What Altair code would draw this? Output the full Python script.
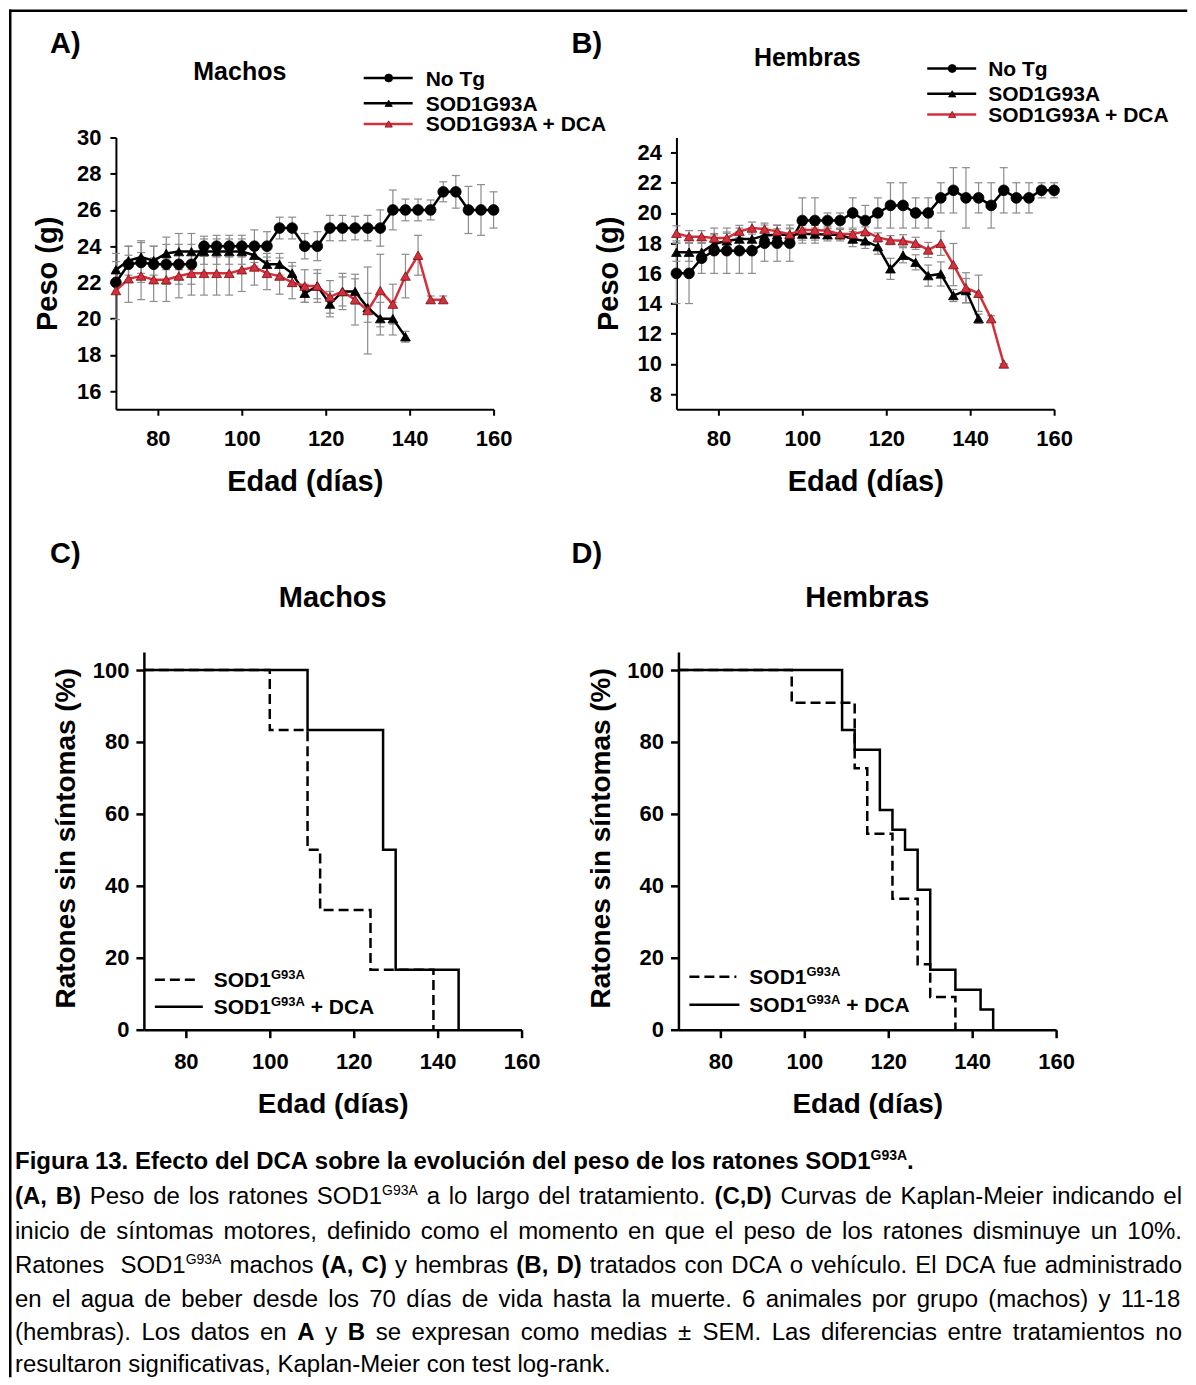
import altair as alt
import pandas as pd

F = "Liberation Sans"
GREY = "#8c8c8c"
RED = "#d3303b"
RED_EDGE = "#7a1016"
CAP = "M-1,0L1,0"

# ---------------- data ----------------
DAYS = [70, 73, 76, 79, 82, 85, 88, 91, 94, 97, 100, 103, 106, 109, 112, 115,
        118, 121, 124, 127, 130, 133, 136, 139, 142, 145, 148, 151, 154, 157, 160]

# Panel A (Machos) weight, g
A_notg = [22.0, 23.0, 23.1, 23.0, 23.0, 23.0, 23.0, 24.0, 24.0, 24.0, 24.0, 24.0, 24.0, 25.0, 25.0, 24.0,
          24.0, 25.0, 25.0, 25.0, 25.0, 25.0, 26.0, 26.0, 26.0, 26.0, 27.0, 27.0, 26.0, 26.0, 26.0]
A_notg_e = [0.6, 1.0, 1.1, 1.0, 1.1, 1.1, 1.1, 0.55, 0.6, 0.6, 0.6, 0.9, 0.8, 0.6, 0.6, 0.7,
            0.8, 0.7, 0.7, 0.65, 0.7, 1.0, 1.1, 0.6, 0.6, 0.55, 0.55, 0.9, 1.3, 1.4, 1.0]
A_sod = [22.7, 23.2, 23.4, 23.2, 23.6, 23.7, 23.7, 23.7, 23.7, 23.7, 23.7, 23.5, 23.0, 23.0, 22.5, 21.4,
         21.8, 20.8, 21.5, 21.5, 20.6, 20.0, 20.0, 19.0]
A_sod_e = [0.9, 0.8, 0.9, 0.8, 0.9, 1.0, 1.0, 0.7, 0.7, 0.7, 0.7, 0.6, 0.6, 0.6, 0.6, 0.5,
           0.7, 0.7, 0.8, 0.7, 0.8, 0.9, 0.9, 0.3]
A_dca = [21.55, 22.2, 22.35, 22.15, 22.15, 22.35, 22.5, 22.5, 22.5, 22.5, 22.7, 22.85, 22.5, 22.35, 22.0,
         21.8, 21.8, 21.2, 21.5, 21.05, 20.45, 21.55, 20.8, 22.35, 23.5, 21.05, 21.05]
A_dca_e = [1.6, 1.3, 1.3, 1.2, 1.2, 1.2, 1.2, 1.2, 1.2, 1.2, 1.2, 1.0, 0.9, 1.0, 0.9,
           0.9, 0.9, 0.9, 1.0, 1.4, 2.4, 2.0, 1.1, 1.2, 1.1, 0.2, 0.2]

# Panel B (Hembras) weight, g
B_notg = [16.0, 16.0, 17.0, 17.5, 17.5, 17.5, 17.5, 18.0, 18.0, 18.0, 19.5, 19.5, 19.5, 19.5, 20.0, 19.5,
          20.0, 20.5, 20.5, 20.0, 20.0, 21.0, 21.5, 21.0, 21.0, 20.5, 21.5, 21.0, 21.0, 21.5, 21.5]
B_notg_e = [2.0, 2.0, 1.0, 1.5, 1.5, 1.5, 1.5, 1.2, 1.2, 1.2, 1.5, 1.5, 0.5, 0.5, 1.0, 1.0,
            1.0, 1.5, 1.5, 1.0, 1.0, 1.0, 1.5, 2.0, 1.0, 1.5, 1.5, 1.0, 1.0, 0.5, 0.5]
B_sod = [17.4, 17.4, 17.4, 17.95, 18.15, 18.27, 18.27, 18.5, 18.55, 18.55, 18.6, 18.6, 18.55, 18.55,
         18.27, 18.15, 17.77, 16.3, 17.2, 16.73, 15.85, 15.96, 14.53, 14.86, 13.0]
B_sod_e = [0.6, 0.6, 0.6, 0.6, 0.5, 0.5, 0.5, 0.5, 0.4, 0.4, 0.4, 0.4, 0.4, 0.4,
           0.5, 0.5, 0.5, 0.7, 0.5, 0.5, 0.7, 0.8, 0.4, 0.8, 0.3]
B_dca = [18.65, 18.43, 18.43, 18.34, 18.34, 18.78, 19.0, 18.93, 18.78, 18.6, 18.87, 18.87, 18.82, 18.6,
         18.6, 18.78, 18.38, 18.2, 18.16, 17.99, 17.55, 17.99, 16.58, 15.04, 14.68, 13.0, 10.0]
B_dca_e = [0.5, 0.4, 0.4, 0.3, 0.4, 0.4, 0.4, 0.4, 0.4, 0.4, 0.3, 0.3, 0.3, 0.3,
           0.3, 0.3, 0.3, 0.3, 0.4, 0.4, 0.5, 0.8, 1.4, 1.0, 1.2, 0.2, 0.0]

# Kaplan-Meier (% without symptoms)
C_dash_day = [70, 100, 109, 112, 124, 139]
C_dash_pct = [100, 83.3, 50.0, 33.3, 16.7, 0]
C_sol_day = [70, 109, 127, 130, 145]
C_sol_pct = [100, 83.3, 50.0, 16.7, 0]
D_dash_day = [70, 97, 112, 115, 121, 127, 130, 136]
D_dash_pct = [100, 90.9, 72.7, 54.5, 36.4, 18.2, 9.1, 0]
D_sol_day = [70, 109, 112, 118, 121, 124, 127, 130, 136, 142, 145]
D_sol_pct = [100, 83.3, 77.8, 61.1, 55.6, 50.0, 38.9, 16.7, 11.1, 5.6, 0]

SERIES_NAMES = ["No Tg", "SOD1G93A", "SOD1G93A + DCA"]

# ---------------- text metrics (Arial / Liberation Sans) ----------------
REG = {' ': 278, '(': 333, ')': 333, ',': 278, '-': 333, '.': 278, '%': 889, '+': 584, '±': 584,
       'A': 667, 'B': 667, 'C': 722, 'D': 722, 'E': 667, 'F': 611, 'G': 778, 'K': 667, 'L': 556,
       'M': 833, 'O': 778, 'P': 667, 'R': 722, 'S': 667, 'T': 611,
       'a': 556, 'b': 556, 'c': 500, 'd': 556, 'e': 556, 'f': 278, 'g': 556, 'h': 556, 'i': 222,
       'j': 222, 'k': 500, 'l': 222, 'm': 833, 'n': 556, 'o': 556, 'p': 556, 'q': 556, 'r': 333,
       's': 500, 't': 278, 'u': 556, 'v': 500, 'w': 722, 'x': 500, 'y': 500, 'z': 500,
       'í': 278, 'ó': 556, 'é': 556, 'á': 556}
BOLD = {' ': 278, '(': 333, ')': 333, ',': 278, '-': 333, '.': 278, '%': 889, '+': 584,
        'A': 722, 'B': 722, 'C': 722, 'D': 722, 'E': 667, 'F': 611, 'G': 778, 'M': 833, 'N': 722,
        'O': 778, 'P': 667, 'R': 722, 'S': 667, 'T': 611,
        'a': 556, 'b': 611, 'c': 556, 'd': 611, 'e': 556, 'f': 333, 'g': 611, 'h': 611, 'i': 278,
        'l': 278, 'm': 889, 'n': 611, 'o': 611, 'p': 611, 'r': 389, 's': 556, 't': 333, 'u': 611,
        'v': 556, 'í': 278, 'ó': 611}
KINDS = {'r': (24, 'normal', 0), 'b': (24, 'bold', 0), 's': (14, 'normal', -9), 'bs': (14, 'bold', -9),
         'lg': (21, 'bold', 0), 'lgs': (13, 'bold', -8)}


def text_width(s, kind):
    size, weight, _ = KINDS[kind]
    tab = BOLD if weight == 'bold' else REG
    return sum(tab.get(c, 556) for c in s) * size / 1000.0


one = pd.DataFrame({"k": [0]})


def deco_text(x, y, text, size, weight="bold", align="left", baseline="alphabetic"):
    return alt.Chart(one).mark_text(text=text, font=F, fontSize=size, fontWeight=weight, align=align,
                                    baseline=baseline, color="black").encode(x=alt.value(x), y=alt.value(y))


def deco_hline(x1, x2, y, color="black", width=2.5, dash=None):
    kw = dict(color=color, strokeWidth=width)
    if dash:
        kw["strokeDash"] = dash
    return alt.Chart(one).mark_rule(**kw).encode(x=alt.value(x1), x2=alt.value(x2), y=alt.value(y))


def deco_point(x, y, shape, fill, stroke, size):
    return alt.Chart(one).mark_point(shape=shape, filled=True, fill=fill, stroke=stroke, strokeWidth=0.8,
                                     size=size, opacity=1).encode(x=alt.value(x), y=alt.value(y))


def pieces_layers(pieces, x0, ybase):
    out = []
    x = x0
    for t, k in pieces:
        size, weight, dy = KINDS[k]
        lead = len(t) - len(t.lstrip(' '))
        xs = x + text_width(t[:lead], k)
        out.append(deco_text(xs, ybase + dy, t.strip(' '), size, weight))
        x += text_width(t, k)
    return out


def axis_common(size_lab):
    return dict(grid=False, domainColor="black", tickColor="black", labelColor="black",
                titleColor="black", labelFont=F, titleFont=F, labelFontSize=size_lab,
                labelFontWeight="bold", titleFontWeight="bold", labelFlush=False)


STYLE = {
    "No Tg": dict(color="black", shape="circle", fill="black", stroke="black", size=115),
    "SOD1G93A": dict(color="black", shape="triangle-up", fill="black", stroke="black", size=95),
    "SOD1G93A + DCA": dict(color=RED, shape="triangle-up", fill=RED, stroke=RED_EDGE, size=95),
}


def weight_panel(vals, ydom, yvals, letter, letter_x, title, title_x, title_y,
                 leg_line, leg_mark, leg_text_x, leg_rows, frame=False):
    xs = alt.Scale(domain=[70, 160], nice=False, zero=False)
    ys = alt.Scale(domain=ydom, nice=False, zero=False)
    xa = alt.Axis(values=[80, 100, 120, 140, 160], title="Edad (días)", titleFontSize=29,
                  titleY=81, titleBaseline="alphabetic", tickSize=6, tickWidth=2, domainWidth=2,
                  labelPadding=13, **axis_common(22))
    ya = alt.Axis(values=yvals, title="Peso (g)", titleFontSize=29, titleAngle=-90, titleX=-68,
                  titleY=136, titleBaseline="middle", titleAlign="center", tickSize=6, tickWidth=2,
                  domainWidth=2, labelPadding=9, **axis_common(22))
    X = alt.X("day:Q", scale=xs, axis=xa)
    dfs = []
    for name, (w, e) in zip(SERIES_NAMES, vals):
        dfs.append(pd.DataFrame({"day": DAYS[:len(w)], "w": w, "err": e, "g": name}))
    layers = []
    for df in dfs:
        base = alt.Chart(df).transform_calculate(lo="datum.w - datum.err", hi="datum.w + datum.err")
        layers.append(base.mark_rule(color=GREY, strokeWidth=1.2).encode(
            x=X, y=alt.Y("lo:Q", scale=ys, axis=ya), y2="hi:Q"))
        for fld in ["lo", "hi"]:
            layers.append(base.mark_point(shape=CAP, size=64, filled=False, color=GREY, strokeWidth=1.2,
                                          opacity=1).encode(x=X, y=alt.Y(f"{fld}:Q", scale=ys, axis=ya)))
    for df in dfs:
        st = STYLE[df["g"].iloc[0]]
        base = alt.Chart(df)
        Y = alt.Y("w:Q", scale=ys, axis=ya)
        layers.append(base.mark_line(color=st["color"], strokeWidth=2.5).encode(x=X, y=Y))
        layers.append(base.mark_point(shape=st["shape"], filled=True, fill=st["fill"], stroke=st["stroke"],
                                      strokeWidth=0.8, size=st["size"], opacity=1).encode(x=X, y=Y))
    # legend
    for name, yc in zip(SERIES_NAMES, leg_rows):
        st = STYLE[name]
        layers.append(deco_hline(leg_line[0], leg_line[1], yc, color=st["color"], width=2.5))
        layers.append(deco_point(leg_mark, yc, st["shape"], st["fill"], st["stroke"], st["size"] * 0.55))
        layers.append(deco_text(leg_text_x, yc + 7.5, name, 21))
    layers.append(deco_text(letter_x, -85, letter, 29))
    layers.append(deco_text(title_x, title_y, title, 25, align="center"))
    if frame:
        layers.append(alt.Chart(one).mark_rule(color="black", strokeWidth=2.5, strokeCap="square").encode(
            x=alt.value(-105.75), x2=alt.value(1071), y=alt.value(-126.75)))
        layers.append(alt.Chart(one).mark_rule(color="black", strokeWidth=2.5, strokeCap="square").encode(
            x=alt.value(-105.75), y=alt.value(-126.75), y2=alt.value(1239.5)))
    return alt.layer(*layers).properties(width=378, height=272)


def km_panel(dash, solid, x0, letter, letter_x, title, title_x, leg_x, leg_text_x, leg_y):
    xs = alt.Scale(domain=[70, 160], range=[x0, x0 + 378], nice=False, zero=False)
    ys = alt.Scale(domain=[0, 105], nice=False, zero=False)
    xa = alt.Axis(values=[80, 100, 120, 140, 160], title="Edad (días)", titleFontSize=28,
                  titleY=83, titleBaseline="alphabetic", tickSize=8, tickWidth=2.5, domainWidth=2.5,
                  labelPadding=14, **axis_common(22))
    ya = alt.Axis(values=[0, 20, 40, 60, 80, 100], title="Ratones sin síntomas (%)", titleFontSize=28,
                  titleAngle=-90, titleX=-77, titleY=186, titleBaseline="middle", titleAlign="center",
                  offset=-x0, tickSize=8, tickWidth=2.5, domainWidth=2.5, labelPadding=7, **axis_common(22))
    X = alt.X("day:Q", scale=xs, axis=xa)
    Y = alt.Y("pct:Q", scale=ys, axis=ya)
    ddf = pd.DataFrame({"day": dash[0], "pct": dash[1]})
    sdf = pd.DataFrame({"day": solid[0], "pct": solid[1]})
    layers = [
        alt.Chart(ddf).mark_line(color="black", strokeWidth=2.5, strokeDash=[10, 5],
                                 interpolate="step-after").encode(x=X, y=Y),
        alt.Chart(sdf).mark_line(color="black", strokeWidth=2.5, interpolate="step-after").encode(x=X, y=Y),
    ]
    layers.append(deco_hline(leg_x[0], leg_x[1], leg_y[0], dash=[10, 5]))
    layers.append(deco_hline(leg_x[0], leg_x[1] + 3, leg_y[1]))
    layers += pieces_layers([("SOD1", "lg"), ("G93A", "lgs")], leg_text_x, leg_y[0] + 7.5)
    layers += pieces_layers([("SOD1", "lg"), ("G93A", "lgs"), (" + DCA", "lg")], leg_text_x, leg_y[1] + 7.5)
    layers.append(deco_text(letter_x, -89, letter, 29))
    layers.append(deco_text(title_x, -45, title, 29, align="center"))
    return alt.layer(*layers).properties(width=x0 + 378, height=378)


A = weight_panel([(A_notg, A_notg_e), (A_sod, A_sod_e), (A_dca, A_dca_e)], [15, 30],
                 [16, 18, 20, 22, 24, 26, 28, 30], "A)", -66, "Machos", 124, -58,
                 (248, 297), 273, 310, [-59.5, -34.2, -13.5], frame=True)
B = weight_panel([(B_notg, B_notg_e), (B_sod, B_sod_e), (B_dca, B_dca_e)], [7, 25],
                 [8, 10, 12, 14, 16, 18, 20, 22, 24], "B)", -105, "Hembras", 131, -72,
                 (251, 300), 276, 312, [-69, -43.7, -23])
C = km_panel((C_dash_day, C_dash_pct), (C_sol_day, C_sol_pct), 28, "C)", -66, "Machos", 217,
             (39, 84), 98, (328, 355))
D = km_panel((D_dash_day, D_dash_pct), (D_sol_day, D_sol_pct), 2, "D)", -105, "Hembras", 191,
             (13, 60), 73, (325, 353))

# ---------------- caption ----------------
CAP_LINES = [
    [("Figura 13. Efecto del DCA sobre la evolución del peso de los ratones SOD1", "b"), ("G93A", "bs"), (".", "b")],
    [("(A, B)", "b"), (" Peso de los ratones SOD1", "r"), ("G93A", "s"), (" a lo largo del tratamiento. ", "r"),
     ("(C,D)", "b"), (" Curvas de Kaplan-Meier indicando el", "r")],
    [("inicio de síntomas motores, definido como el momento en que el peso de los ratones disminuye un 10%.", "r")],
    [("Ratones  SOD1", "r"), ("G93A", "s"), (" machos ", "r"), ("(A, C)", "b"), (" y hembras ", "r"),
     ("(B, D)", "b"), (" tratados con DCA o vehículo. El DCA fue administrado", "r")],
    [("en el agua de beber desde los 70 días de vida hasta la muerte. 6 animales por grupo (machos) y 11-18", "r")],
    [("(hembras). Los datos en ", "r"), ("A", "b"), (" y ", "r"), ("B", "b"),
     (" se expresan como medias ± SEM. Las diferencias entre tratamientos no", "r")],
    [("resultaron significativas, Kaplan-Meier con test log-rank.", "r")],
]
CAP_BASE = [1169, 1204, 1239, 1273, 1308, 1341, 1373]
CAP_JUST = [False, True, True, True, True, True, False]
CAP_X0, CAP_X1 = 15, 1183
CELL_X, CELL_Y = 116, 1273


def words_of(segs):
    words = [[]]
    for text, kind in segs:
        parts = text.split(" ")
        for j, p in enumerate(parts):
            if j > 0:
                words.append([])
            if p:
                words[-1].append((p, kind))
    return words


rows = []
for segs, base, just in zip(CAP_LINES, CAP_BASE, CAP_JUST):
    words = words_of(segs)
    widths = [sum(text_width(t, k) for t, k in w) for w in words]
    gap = (CAP_X1 - CAP_X0 - sum(widths)) / (len(words) - 1) if just else 278 * 24 / 1000.0
    x = CAP_X0
    for w, wd in zip(words, widths):
        xx = x
        for t, k in w:
            rows.append({"x": xx - CELL_X, "y": base + KINDS[k][2] - CELL_Y, "t": t, "k": k})
            xx += text_width(t, k)
        x += wd + gap
cap_df = pd.DataFrame(rows)

cap_layers = []
for k in ["r", "b", "s", "bs"]:
    size, weight, _ = KINDS[k]
    cap_layers.append(
        alt.Chart(cap_df[cap_df["k"] == k]).mark_text(align="left", baseline="alphabetic", font=F,
                                                     fontSize=size, fontWeight=weight, color="black")
        .encode(x=alt.X("x:Q", scale=None, axis=None), y=alt.Y("y:Q", scale=None, axis=None), text="t:N"))
caption = alt.layer(*cap_layers).properties(width=1, height=1)

chart = alt.concat(A, B, C, D, caption, columns=2, spacing={"row": 243, "column": 155},
                   bounds="flush").properties(padding=0, background="white").configure_view(stroke=None)

chart.save("out.html", embed_options={"renderer": "svg", "actions": False})
